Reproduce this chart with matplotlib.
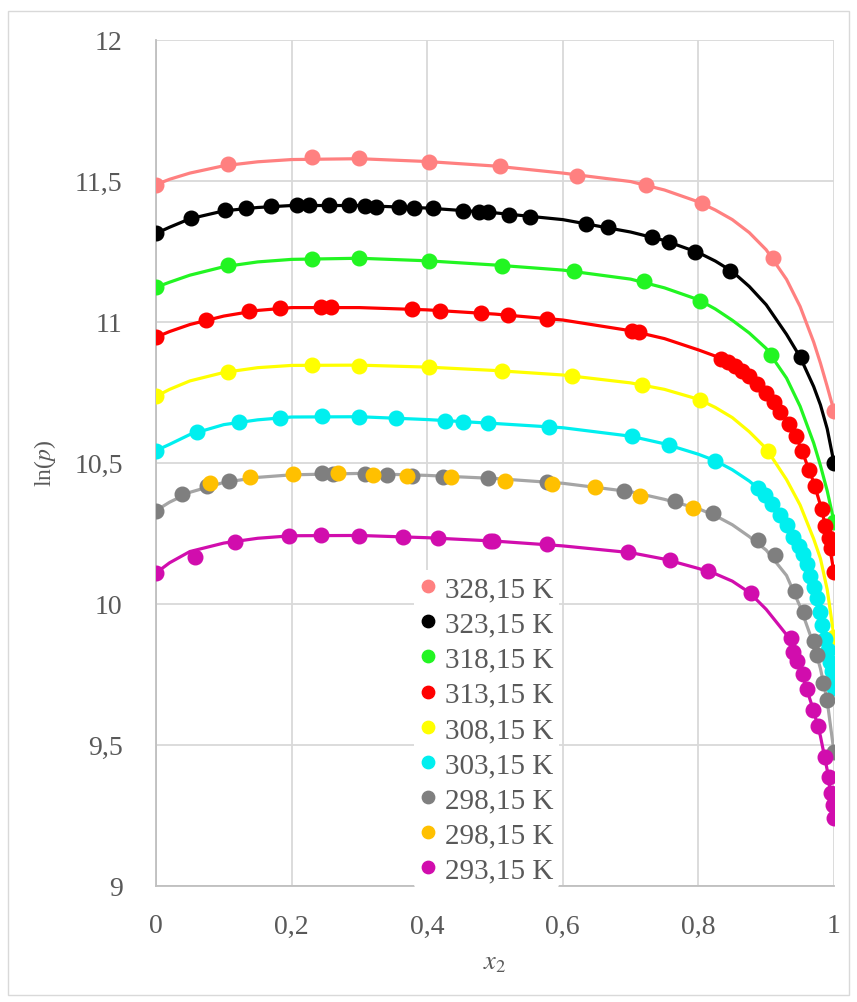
# ln(p) vs x2 dla kilku temperatur
import matplotlib.pyplot as plt
from matplotlib.patches import Rectangle

plt.rcParams['font.family'] = ['Liberation Serif', 'DejaVu Serif']
plt.rcParams['mathtext.fontset'] = 'stix'

# punkty pomiarowe
x_328 = [0, 0.106, 0.2305, 0.300, 0.402, 0.508, 0.6205, 0.722, 0.805, 0.910, 1.0]
y_328 = [11.486, 11.559, 11.583, 11.579, 11.565, 11.551, 11.518, 11.486, 11.421, 11.226, 10.683]

x_323 = [0, 0.051, 0.102, 0.133, 0.170, 0.2075, 0.226, 0.255, 0.285, 0.308, 0.324, 0.359, 0.381,
         0.408, 0.453, 0.477, 0.490, 0.520, 0.552, 0.634, 0.666, 0.731, 0.757, 0.795, 0.8466, 0.951, 1.0]
y_323 = [11.313, 11.368, 11.396, 11.403, 11.409, 11.415, 11.415, 11.415, 11.413, 11.410, 11.408, 11.406, 11.404,
         11.402, 11.393, 11.389, 11.388, 11.379, 11.370, 11.346, 11.335, 11.299, 11.282, 11.247, 11.181, 10.874, 10.499]

x_318 = [0, 0.106, 0.2305, 0.300, 0.402, 0.510, 0.6165, 0.720, 0.802, 0.907, 1.0]
y_318 = [11.122, 11.202, 11.222, 11.226, 11.214, 11.199, 11.180, 11.143, 11.074, 10.882, 10.291]

x_313 = [0, 0.0737, 0.137, 0.183, 0.243, 0.2577, 0.378, 0.419, 0.479, 0.519, 0.577, 0.7016, 0.712,
         0.834, 0.844, 0.854, 0.864, 0.875, 0.887, 0.900, 0.912, 0.921, 0.933, 0.9435, 0.953, 0.963,
         0.972, 0.982, 0.987, 0.992, 0.996, 1.0]
y_313 = [10.945, 11.007, 11.037, 11.049, 11.053, 11.052, 11.045, 11.039, 11.031, 11.024, 11.011, 10.968, 10.965,
         10.868, 10.856, 10.844, 10.826, 10.806, 10.779, 10.746, 10.714, 10.681, 10.637, 10.594, 10.541, 10.475,
         10.418, 10.336, 10.277, 10.232, 10.196, 10.111]

x_308 = [0, 0.106, 0.2305, 0.300, 0.402, 0.511, 0.613, 0.717, 0.802, 0.903, 1.0]
y_308 = [10.735, 10.823, 10.846, 10.844, 10.838, 10.825, 10.809, 10.777, 10.723, 10.540, 9.883]

x_303 = [0, 0.060, 0.123, 0.183, 0.245, 0.300, 0.3535, 0.4258, 0.453, 0.490, 0.580, 0.7016, 0.757, 0.8245,
         0.888, 0.898, 0.908, 0.920, 0.930, 0.940, 0.948, 0.954, 0.960, 0.965, 0.970, 0.975, 0.979,
         0.983, 0.987, 0.991, 0.994, 0.997, 0.999, 1.0]
y_303 = [10.543, 10.610, 10.645, 10.660, 10.665, 10.663, 10.660, 10.649, 10.645, 10.641, 10.628, 10.594, 10.563, 10.507,
         10.410, 10.387, 10.355, 10.315, 10.280, 10.235, 10.205, 10.175, 10.142, 10.100, 10.060, 10.020, 9.970,
         9.925, 9.875, 9.835, 9.795, 9.760, 9.725, 9.700]

x_298a = [0, 0.039, 0.0757, 0.1077, 0.2444, 0.2615, 0.308, 0.340, 0.377, 0.424, 0.490, 0.576, 0.690,
          0.7655, 0.822, 0.888, 0.913, 0.9425, 0.956, 0.9705, 0.9745, 0.984, 0.989, 1.0]
y_298a = [10.330, 10.389, 10.418, 10.436, 10.462, 10.460, 10.460, 10.457, 10.452, 10.450, 10.445, 10.430, 10.401,
          10.365, 10.322, 10.225, 10.173, 10.046, 9.970, 9.869, 9.818, 9.719, 9.660, 9.473]

x_298b = [0.0796, 0.1386, 0.2016, 0.269, 0.3196, 0.3697, 0.435, 0.515, 0.5836, 0.6475, 0.714, 0.7925]
y_298b = [10.427, 10.448, 10.460, 10.463, 10.457, 10.454, 10.448, 10.436, 10.424, 10.413, 10.383, 10.338]

x_293 = [0, 0.058, 0.1165, 0.1966, 0.243, 0.300, 0.365, 0.4164, 0.4926, 0.497, 0.576, 0.6966, 0.758,
         0.8146, 0.877, 0.936, 0.940, 0.945, 0.954, 0.9606, 0.969, 0.977, 0.9867, 0.992, 0.996, 0.9985, 1.0]
y_293 = [10.109, 10.167, 10.220, 10.241, 10.244, 10.241, 10.235, 10.232, 10.223, 10.222, 10.212, 10.182, 10.155,
         10.117, 10.038, 9.877, 9.830, 9.798, 9.751, 9.697, 9.624, 9.567, 9.455, 9.386, 9.328, 9.286, 9.239]

# krzywe dopasowania
fit_x = [0, 0.02, 0.05, 0.1, 0.15, 0.2, 0.3, 0.4, 0.5, 0.6, 0.7, 0.75, 0.8, 0.825, 0.85, 0.875, 0.9,
         0.93, 0.95, 0.97, 0.98, 0.99, 1.0]
fit_328 = [11.486, 11.505, 11.527, 11.553, 11.567, 11.575, 11.578, 11.568, 11.552, 11.527, 11.497, 11.467,
           11.425, 11.396, 11.362, 11.316, 11.255, 11.15, 11.054, 10.928, 10.853, 10.77, 10.683]
fit_323 = [11.313, 11.335, 11.365, 11.393, 11.405, 11.412, 11.412, 11.403, 11.386, 11.362, 11.318, 11.288,
           11.245, 11.215, 11.178, 11.125, 11.06, 10.955, 10.875, 10.77, 10.705, 10.62, 10.499]
fit_318 = [11.122, 11.14, 11.165, 11.195, 11.212, 11.221, 11.225, 11.216, 11.201, 11.183, 11.151, 11.12,
           11.078, 11.045, 11.005, 10.96, 10.905, 10.80, 10.70, 10.57, 10.49, 10.40, 10.291]
fit_313 = [10.945, 10.965, 10.99, 11.02, 11.04, 11.05, 11.05, 11.042, 11.027, 11.006, 10.968, 10.94,
           10.90, 10.878, 10.85, 10.806, 10.746, 10.65, 10.56, 10.43, 10.35, 10.25, 10.111]
fit_308 = [10.735, 10.76, 10.79, 10.82, 10.837, 10.845, 10.846, 10.839, 10.827, 10.811, 10.783, 10.76,
           10.725, 10.696, 10.66, 10.61, 10.55, 10.44, 10.35, 10.23, 10.16, 10.05, 9.883]
fit_303 = [10.543, 10.565, 10.60, 10.635, 10.652, 10.662, 10.663, 10.653, 10.639, 10.624, 10.594, 10.567,
           10.53, 10.507, 10.475, 10.435, 10.385, 10.29, 10.205, 10.06, 9.96, 9.84, 9.698]
fit_298 = [10.330, 10.36, 10.395, 10.43, 10.448, 10.457, 10.462, 10.455, 10.444, 10.427, 10.397, 10.37,
           10.337, 10.312, 10.28, 10.238, 10.19, 10.10, 9.99, 9.855, 9.77, 9.655, 9.473]
fit_293 = [10.109, 10.145, 10.185, 10.215, 10.232, 10.241, 10.242, 10.234, 10.222, 10.205, 10.181, 10.158,
           10.125, 10.106, 10.08, 10.04, 9.98, 9.89, 9.77, 9.62, 9.53, 9.41, 9.239]

etykiety = ['328,15 K', '323,15 K', '318,15 K', '313,15 K', '308,15 K',
            '303,15 K', '298,15 K', '298,15 K', '293,15 K']
kolory = ['#ff8080', '#000000', '#22f522', '#ff0000', '#ffff00',
          '#00efef', '#7f7f7f', '#ffc000', '#d10dad']
kolory_linii = ['#ff8080', '#000000', '#22f522', '#ff0000', '#ffff00',
                '#00efef', '#a5a5a5', None, '#d10dad']

dane_x = [x_328, x_323, x_318, x_313, x_308, x_303, x_298a, x_298b, x_293]
dane_y = [y_328, y_323, y_318, y_313, y_308, y_303, y_298a, y_298b, y_293]
krzywe = [fit_328, fit_323, fit_318, fit_313, fit_308, fit_303, fit_298, None, fit_293]

fig = plt.figure(figsize=(8.57, 10.03), dpi=100)
ax = fig.add_axes([156/857, 1 - 886.7/1003, 678/857, 846/1003])

# ramka wokół całego wykresu
fig.patches.append(Rectangle((8/857, 1 - 996/1003), 841/857, 984/1003, transform=fig.transFigure,
                             fill=False, edgecolor='#d9d9d9', linewidth=1))

for fit, kl in zip(krzywe, kolory_linii):
    if fit is not None:
        ax.plot(fit_x, fit, color=kl, linewidth=2.3, zorder=2)

for xs, ys, k, lab in zip(dane_x, dane_y, kolory, etykiety):
    ax.plot(xs, ys, 'o', color=k, markersize=10.5, label=lab, zorder=3)

ax.set_xlim(0, 1)
ax.set_ylim(9, 12)
ax.set_xticks([0, 0.2, 0.4, 0.6, 0.8, 1.0])
ax.set_xticklabels(['0', '0,2', '0,4', '0,6', '0,8', '1'])
ax.set_yticks([9, 9.5, 10, 10.5, 11, 11.5, 12])
ax.set_yticklabels(['9', '9,5', '10', '10,5', '11', '11,5', '12'])
ax.tick_params(length=0, labelsize=20, labelcolor='#595959', pad=20)
ax.tick_params(axis='y', pad=24)
ax.grid(True, color='#d9d9d9', linewidth=1.3, zorder=0)
ax.set_axisbelow(True)
for s in ['top', 'right']:
    ax.spines[s].set_visible(False)
for s in ['left', 'bottom']:
    ax.spines[s].set_color('#bfbfbf')
    ax.spines[s].set_linewidth(1.3)

ax.set_xlabel(r'$x_2$', fontsize=19, color='#595959', labelpad=10)
ax.set_ylabel(r'ln($\it{p}$)', fontsize=17, color='#595959', labelpad=12)

leg = ax.legend(loc='upper left', bbox_to_anchor=(414/857, 1 - 571/1003), bbox_transform=fig.transFigure,
                fontsize=21, frameon=True, facecolor='white', edgecolor='none', framealpha=1,
                handlelength=0.55, handletextpad=0.3, labelspacing=0.3, borderpad=0.2,
                borderaxespad=0, markerscale=0.85)
for t in leg.get_texts():
    t.set_color('#595959')

fig.savefig('out.png', dpi=100)
